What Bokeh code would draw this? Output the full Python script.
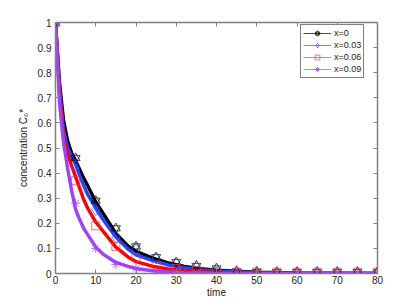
from bokeh.plotting import figure
from bokeh.models import Range1d, FixedTicker, LinearAxis, Legend, LegendItem
from bokeh.embed import file_html
from bokeh.resources import INLINE

# smooth curves (thick lines)
t_curve = [0, 1, 2, 3, 4, 5, 6, 7, 8, 10, 12, 15, 18, 20, 24, 28, 32, 36, 40, 50, 60, 70, 80]
c_x0 = [1.0, 0.76, 0.61, 0.53, 0.48, 0.45, 0.415, 0.38, 0.35, 0.285, 0.235, 0.16, 0.11, 0.088, 0.062, 0.042, 0.028, 0.019, 0.013, 0.005, 0.002, 0.001, 0.0]
c_x3 = [1.0, 0.74, 0.57, 0.50, 0.465, 0.435, 0.39, 0.35, 0.315, 0.26, 0.21, 0.145, 0.097, 0.074, 0.052, 0.034, 0.023, 0.015, 0.01, 0.003, 0.001, 0.0, 0.0]
c_x6 = [1.0, 0.72, 0.54, 0.475, 0.43, 0.385, 0.34, 0.295, 0.26, 0.205, 0.165, 0.105, 0.066, 0.047, 0.029, 0.018, 0.011, 0.007, 0.004, 0.001, 0.0, 0.0, 0.0]
c_x9 = [1.0, 0.68, 0.52, 0.42, 0.33, 0.255, 0.215, 0.18, 0.155, 0.105, 0.075, 0.044, 0.028, 0.02, 0.011, 0.006, 0.003, 0.002, 0.001, 0.0, 0.0, 0.0, 0.0]

# marker series
t_mark = [0, 5, 10, 15, 20, 25, 30, 35, 40, 45, 50, 55, 60, 65, 70, 75, 80]
m_x0 = [1.0, 0.46, 0.29, 0.18, 0.108, 0.065, 0.045, 0.03, 0.02, 0.008, 0.006, 0.005, 0.005, 0.005, 0.005, 0.005, 0.005]
m_x3 = [1.0, 0.43, 0.255, 0.145, 0.095, 0.062, 0.042, 0.028, 0.018, 0.008, 0.006, 0.005, 0.005, 0.005, 0.005, 0.005, 0.005]
m_x6 = [1.0, 0.37, 0.19, 0.108, 0.063, 0.03, 0.02, 0.012, 0.008, 0.005, 0.005, 0.005, 0.005, 0.005, 0.005, 0.005, 0.005]
m_x9 = [1.0, 0.28, 0.10, 0.036, 0.02, 0.008, 0.004, 0.002, 0.001, 0.0, 0.0, 0.0, 0.0, 0.0, 0.0, 0.0, 0.0]

labels = ["x=0", "x=0.03", "x=0.06", "x=0.09"]
x_ticks = [0, 10, 20, 30, 40, 50, 60, 70, 80]
y_ticks = [0, 0.1, 0.2, 0.3, 0.4, 0.5, 0.6, 0.7, 0.8, 0.9, 1]

FONT = "Liberation Sans"

p = figure(width=407, height=300, output_backend="svg", toolbar_location=None,
           x_range=Range1d(0, 80), y_range=Range1d(0, 1),
           min_border_left=55, min_border_right=30, min_border_top=22, min_border_bottom=26)
p.outline_line_color = None
p.xgrid.visible = False
p.ygrid.visible = False

axis_color = "#808080"
for ax in (p.xaxis[0], p.yaxis[0]):
    ax.axis_line_color = axis_color
    ax.axis_line_width = 1.5
    ax.major_tick_line_color = axis_color
    ax.major_tick_in = 4
    ax.major_tick_out = 0
    ax.minor_tick_line_color = None
    ax.major_label_text_font = FONT
    ax.major_label_text_font_size = "10px"
    ax.major_label_text_color = "#222222"
    ax.axis_label_text_font = FONT
    ax.axis_label_text_font_size = "10px"
    ax.axis_label_text_font_style = "normal"
    ax.axis_label_text_color = "#222222"

p.xaxis[0].ticker = FixedTicker(ticks=x_ticks)
p.yaxis[0].ticker = FixedTicker(ticks=y_ticks)
p.yaxis[0].major_label_overrides = {0: "0", 1: "1"}
p.xaxis[0].axis_label = "time"
p.yaxis[0].axis_label = "concentration C\u2080*"
p.xaxis[0].major_label_standoff = 2
p.xaxis[0].axis_label_standoff = 0
p.yaxis[0].major_label_standoff = 4
p.yaxis[0].axis_label_standoff = 6

for side, tk in (("above", x_ticks), ("right", y_ticks)):
    ax = LinearAxis(ticker=FixedTicker(ticks=tk))
    ax.axis_line_color = axis_color
    ax.axis_line_width = 1.5
    ax.major_tick_line_color = axis_color
    ax.major_tick_in = 4
    ax.major_tick_out = 0
    ax.minor_tick_line_color = None
    ax.major_label_text_font_size = "0px"
    ax.major_label_text_alpha = 0
    p.add_layout(ax, side)

curve_colors = ["#000000", "#2244ff", "#ff0000", "#a040ff"]
mark_colors = ["#000000", "#3355ff", "#ff3333", "#b040ff"]
curves = [c_x0, c_x3, c_x6, c_x9]

# thin lines (legend) lying under the thick curves
thin = [p.line(t_curve, ys, line_color=col, line_width=0.7) for ys, col in zip(curves, mark_colors)]

# thick smooth curves
for ys, col in zip(curves, curve_colors):
    p.line(t_curve, ys, line_color=col, line_width=3.4)

items = []
# x=0: hexagram made from two triangles
r_a = p.scatter(t_mark, m_x0, marker="triangle", size=9, line_color=mark_colors[0], fill_alpha=0, line_width=0.7)
r_b = p.scatter(t_mark, m_x0, marker="inverted_triangle", size=9, line_color=mark_colors[0], fill_alpha=0, line_width=0.7)
items.append(LegendItem(label=labels[0], renderers=[thin[0], r_a, r_b]))

r_m1 = p.scatter(t_mark, m_x3, marker="diamond", size=12, line_color=mark_colors[1], fill_alpha=0, line_width=0.7)
items.append(LegendItem(label=labels[1], renderers=[thin[1], r_m1]))

r_m2 = p.scatter(t_mark, m_x6, marker="square", size=8, line_color=mark_colors[2], fill_alpha=0, line_width=0.7)
items.append(LegendItem(label=labels[2], renderers=[thin[2], r_m2]))

r_m3 = p.scatter(t_mark, m_x9, marker="asterisk", size=9, line_color=mark_colors[3], line_width=0.8)
items.append(LegendItem(label=labels[3], renderers=[thin[3], r_m3]))

legend = Legend(items=items, location=(245, 195))
legend.padding = 2
legend.spacing = 0
legend.glyph_width = 28
legend.glyph_height = 12
legend.label_height = 12
legend.label_standoff = 3
legend.label_text_font = FONT
legend.label_text_font_size = "9px"
legend.label_text_color = "#222222"
legend.border_line_color = "#000000"
legend.border_line_width = 1
legend.background_fill_color = "white"
legend.background_fill_alpha = 1
p.add_layout(legend)

open("out.html", "w").write(file_html(p, INLINE))
